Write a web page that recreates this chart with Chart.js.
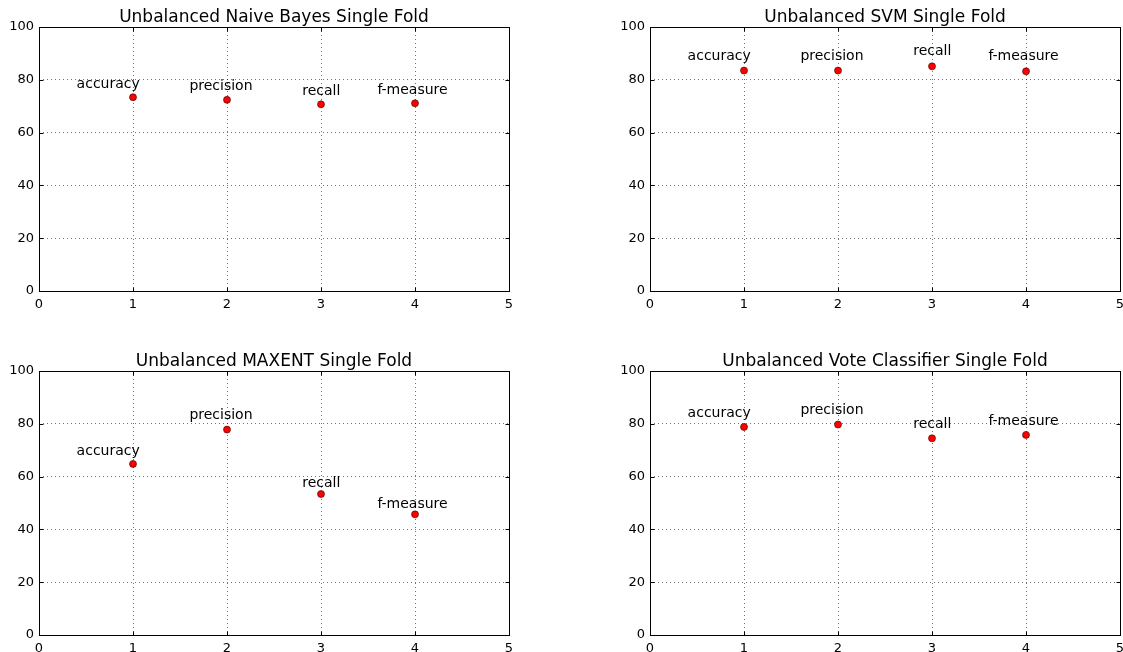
<!DOCTYPE html>
<html>
<head>
<meta charset="utf-8">
<script src="https://cdn.jsdelivr.net/npm/chart.js@4.4.0/dist/chart.umd.min.js"></script>
<style>
    html, body { margin: 0; padding: 0; background: #fff; overflow: hidden; width: 1123px; height: 652px; }
    canvas { position: absolute; }
</style>
</head>
<body>
<canvas id="nbChart" width="548" height="326" style="left:0;top:0"></canvas>
<canvas id="svmChart" width="648" height="326" style="left:561px;top:0"></canvas>
<canvas id="maxentChart" width="548" height="308" style="left:0;top:344px"></canvas>
<canvas id="voteChart" width="648" height="308" style="left:561px;top:344px"></canvas>
<script>
const metrics = ['accuracy', 'precision', 'recall', 'f-measure'];
const xTicks = [0, 1, 2, 3, 4, 5];
const yTicks = [0, 20, 40, 60, 80, 100];

const naiveBayesScores = [73.4, 72.4, 70.7, 71.1];
const svmScores = [83.5, 83.5, 85.1, 83.2];
const maxentScores = [64.8, 77.8, 53.4, 45.7];
const voteScores = [78.8, 79.7, 74.5, 75.8];

const titles = [
    'Unbalanced Naive Bayes Single Fold',
    'Unbalanced SVM Single Fold',
    'Unbalanced MAXENT Single Fold',
    'Unbalanced Vote Classifier Single Fold'
];

// where each annotation starts, relative to its point (x in data units)
const labelShift = [-0.6, -0.4, -0.2, -0.4];
const labelLift = 1.05;

Chart.defaults.font.family = '"DejaVu Sans", sans-serif';
Chart.defaults.color = '#000';

const px = v => Math.round(v) + 0.5;

// full box round the plot plus matplotlib-style inward ticks
const framePlugin = {
    id: 'frame',
    afterDraw(chart) {
        const { ctx, chartArea: a, scales } = chart;
        const l = px(a.left), r = px(a.right), t = px(a.top), b = px(a.bottom);
        ctx.save();
        ctx.strokeStyle = '#000';
        ctx.lineWidth = 1;
        ctx.beginPath();
        scales.x.ticks.forEach(tick => {
            const x = px(scales.x.getPixelForValue(tick.value));
            ctx.moveTo(x, b); ctx.lineTo(x, b - 4);
            ctx.moveTo(x, t); ctx.lineTo(x, t + 4);
        });
        scales.y.ticks.forEach(tick => {
            const y = px(scales.y.getPixelForValue(tick.value));
            ctx.moveTo(l, y); ctx.lineTo(l + 4, y);
            ctx.moveTo(r, y); ctx.lineTo(r - 4, y);
        });
        ctx.stroke();
        ctx.strokeRect(l, t, r - l, b - t);
        ctx.restore();
    }
};

const labelPlugin = {
    id: 'pointLabels',
    afterDatasetsDraw(chart) {
        const { ctx, scales } = chart;
        const points = chart.data.datasets[0].data;
        ctx.save();
        ctx.font = '14px "DejaVu Sans"';
        ctx.fillStyle = '#000';
        ctx.textAlign = 'left';
        ctx.textBaseline = 'alphabetic';
        points.forEach((p, i) => {
            const x = scales.x.getPixelForValue(p.x + labelShift[i]);
            const y = scales.y.getPixelForValue(p.y * labelLift);
            ctx.fillText(metrics[i], x, y);
        });
        ctx.restore();
    }
};

function makeChart(id, title, scores, yWidth, xHeight, rightPad) {
    const ctx = document.getElementById(id).getContext('2d');
    return new Chart(ctx, {
        type: 'scatter',
        data: {
            datasets: [{
                data: metrics.map((m, i) => ({ x: i + 1, y: scores[i] })),
                pointRadius: 3.5,
                pointBackgroundColor: '#ff0000',
                pointBorderColor: '#330000',
                pointBorderWidth: 0.6,
                pointHoverRadius: 3.5
            }]
        },
        options: {
            responsive: false,
            animation: false,
            events: [],
            layout: { padding: { left: 0, right: rightPad, top: 0, bottom: 0 } },
            plugins: {
                legend: { display: false },
                tooltip: { enabled: false },
                title: {
                    display: true,
                    fullSize: false,
                    text: title,
                    color: '#000',
                    font: { size: 17, weight: 'normal', lineHeight: 1 },
                    padding: { top: 8.6, bottom: 1.4 }
                }
            },
            scales: {
                x: {
                    type: 'linear',
                    min: xTicks[0],
                    max: xTicks[xTicks.length - 1],
                    afterBuildTicks: s => { s.ticks = xTicks.map(v => ({ value: v })); },
                    ticks: { font: { size: 13 }, padding: 5.5, maxRotation: 0, color: '#000' },
                    grid: { color: 'rgba(0,0,0,0.55)', lineWidth: 1, drawTicks: false },
                    border: { display: false, dash: [1, 3] },
                    afterFit: s => { s.height = xHeight; }
                },
                y: {
                    min: yTicks[0],
                    max: yTicks[yTicks.length - 1],
                    afterBuildTicks: s => { s.ticks = yTicks.map(v => ({ value: v })); },
                    ticks: { font: { size: 13 }, padding: 5, color: '#000' },
                    grid: { color: 'rgba(0,0,0,0.55)', lineWidth: 1, drawTicks: false },
                    border: { display: false, dash: [1, 3] },
                    afterFit: s => { s.width = yWidth; }
                }
            }
        },
        plugins: [framePlugin, labelPlugin]
    });
}

makeChart('nbChart', titles[0], naiveBayesScores, 39, 35, 39);
makeChart('svmChart', titles[1], svmScores, 89, 35, 89);
makeChart('maxentChart', titles[2], maxentScores, 39, 17, 39);
makeChart('voteChart', titles[3], voteScores, 89, 17, 89);
</script>
</body>
</html>
